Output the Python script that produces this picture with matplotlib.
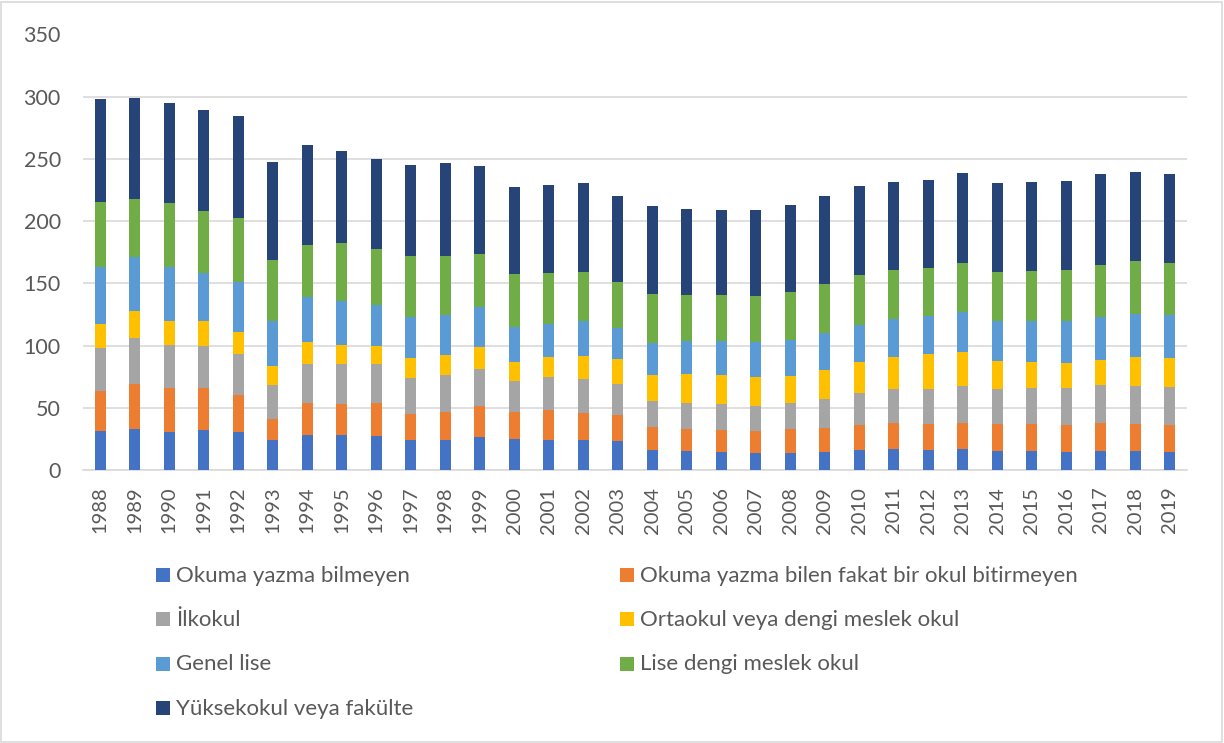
import matplotlib
matplotlib.use("Agg")
import matplotlib.pyplot as plt
from matplotlib.patches import Rectangle
import numpy as np

plt.rcParams['font.family'] = ['Lato', 'DejaVu Sans']

years = [str(y) for y in range(1988, 2020)]

series_names = [
    "Okuma yazma bilmeyen",
    "Okuma yazma bilen fakat bir okul bitirmeyen",
    "İlkokul",
    "Ortaokul veya dengi meslek okul",
    "Genel lise",
    "Lise dengi meslek okul",
    "Yüksekokul veya fakülte",
]
colors = ["#4472C4", "#ED7D31", "#A5A5A5", "#FFC000", "#5B9BD5", "#70AD47", "#264478"]

okuma_yazma_bilmeyen = [31.6, 33.2, 30.8, 32.1, 30.3, 23.8, 27.9, 27.9, 27.3, 23.8, 24.4, 26.5, 24.9, 24.4, 23.8, 23.0,
                        16.3, 15.3, 14.5, 13.9, 13.9, 14.7, 15.8, 16.6, 16.3, 16.9, 15.5, 15.5, 14.7, 15.5, 15.5, 14.7]
okul_bitirmeyen = [31.9, 36.2, 35.4, 33.8, 30.2, 17.5, 25.7, 25.4, 26.5, 21.5, 22.5, 24.9, 22.0, 24.1, 22.3, 21.5,
                   18.0, 17.9, 17.9, 17.4, 18.8, 19.3, 20.4, 21.4, 20.9, 21.1, 21.7, 21.7, 21.7, 22.0, 21.2, 21.7]
ilkokul = [34.8, 36.9, 34.0, 34.0, 32.7, 27.3, 31.9, 31.6, 31.7, 28.9, 29.4, 30.0, 24.6, 26.0, 27.0, 24.9,
           21.4, 20.9, 20.9, 20.4, 21.1, 23.1, 25.9, 27.4, 27.9, 29.5, 27.9, 29.0, 29.8, 31.1, 31.1, 30.3]
ortaokul = [19.3, 21.7, 19.3, 19.6, 17.4, 14.7, 17.4, 15.8, 14.2, 15.8, 16.1, 17.4, 15.6, 16.0, 18.5, 19.8,
            20.6, 23.0, 23.0, 23.0, 21.7, 23.0, 24.7, 25.7, 28.1, 27.3, 22.5, 20.3, 19.5, 19.5, 22.7, 23.6]
genel_lise = [45.3, 43.4, 43.4, 38.5, 40.2, 36.7, 35.9, 34.8, 32.6, 33.2, 32.4, 31.9, 28.1, 27.1, 28.4, 25.2,
              25.8, 26.8, 27.6, 28.4, 29.0, 30.3, 30.0, 30.2, 30.8, 31.9, 31.9, 33.0, 33.8, 34.6, 34.6, 34.0]
meslek_lise = [52.7, 46.4, 51.4, 50.1, 51.4, 48.8, 42.0, 46.9, 45.3, 49.0, 47.2, 42.6, 42.3, 40.4, 39.1, 36.4,
               39.6, 36.7, 36.7, 36.5, 38.3, 39.1, 39.9, 39.2, 38.1, 39.7, 39.9, 40.4, 41.2, 42.0, 42.9, 42.1]
yuksekokul = [82.6, 81.4, 80.4, 80.9, 82.0, 78.5, 80.1, 73.7, 72.6, 72.6, 75.0, 71.3, 69.9, 70.8, 71.3, 69.4,
              70.2, 69.4, 68.6, 69.3, 69.9, 70.7, 71.3, 70.7, 70.7, 72.0, 71.5, 71.8, 71.3, 72.9, 71.2, 71.5]

series = [okuma_yazma_bilmeyen, okul_bitirmeyen, ilkokul, ortaokul, genel_lise, meslek_lise, yuksekokul]

W, H = 1224, 743
fig = plt.figure(figsize=(W / 100, H / 100), dpi=100)
ax = fig.add_axes([83 / W, 1 - 470 / H, (1187 - 83) / W, (470 - 34.5) / H])

x = np.arange(len(years))
bottom = np.zeros(len(years))
for vals, c, name in zip(series, colors, series_names):
    v = np.array(vals)
    ax.bar(x, v, width=0.33, bottom=bottom, color=c, label=name, zorder=3)
    bottom += v

ax.set_xlim(-0.5, len(years) - 0.5)
ax.set_ylim(0, 350)
ax.set_yticks(range(0, 351, 50))
ax.grid(axis='y', color='#D9D9D9', linewidth=1.2, zorder=0)
for s in ['top', 'right', 'left']:
    ax.spines[s].set_visible(False)
ax.spines['bottom'].set_color('#D9D9D9')
ax.spines['bottom'].set_linewidth(1.2)
ax.set_xticks(x)
ax.set_xticklabels(years, rotation=90)
ax.tick_params(axis='y', length=0, pad=16, labelsize=15.5, labelcolor='#595959')
ax.tick_params(axis='x', length=0, pad=12, labelsize=14.5, labelcolor='#595959')

# legend (manual, two columns, row-wise order)
col_x = [156, 620]
row_base = [581.5, 626, 670.5, 715]
for i, (name, c) in enumerate(zip(series_names, colors)):
    r, col = divmod(i, 2)
    mx = col_x[col]
    yb = row_base[r]
    fig.add_artist(Rectangle((mx / W, 1 - yb / H), 14 / W, 14 / H, transform=fig.transFigure,
                             facecolor=c, edgecolor='none'))
    fig.text((mx + 20) / W, 1 - yb / H, name, fontsize=16, color='#595959', va='baseline', ha='left')

# chart border
fig.add_artist(Rectangle((1 / W, 1 / H), (W - 3) / W, (H - 3) / H, transform=fig.transFigure,
                         facecolor='none', edgecolor='#D9D9D9', linewidth=1.2))

fig.savefig("out.png", dpi=100)
